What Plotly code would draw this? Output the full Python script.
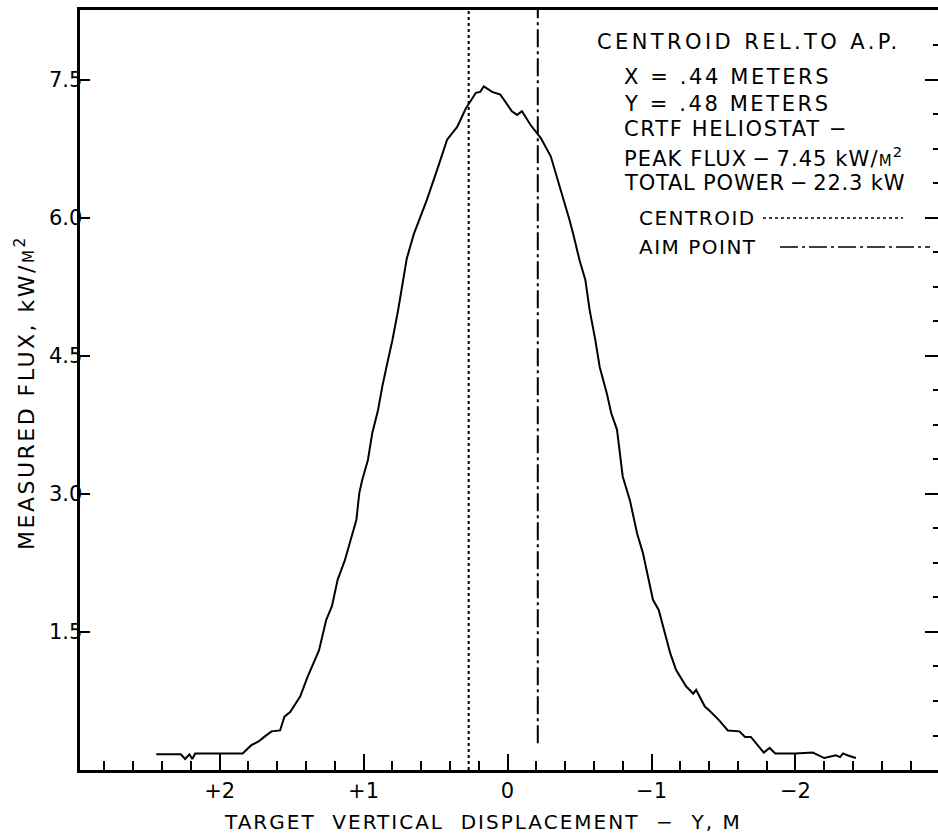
import plotly.graph_objects as go

# ---- data ----
disp_y = [2.44, 2.30, 2.27, 2.24, 2.21, 2.19, 2.17, 2.00, 1.84, 1.78, 1.73, 1.69, 1.64, 1.58,
          1.55, 1.51, 1.44, 1.39, 1.34, 1.31, 1.26, 1.22, 1.18, 1.13, 1.09, 1.05, 1.03,
          1.01, 0.97, 0.94, 0.90, 0.87, 0.83, 0.80, 0.76, 0.73, 0.70, 0.65, 0.56, 0.49,
          0.42, 0.35, 0.29, 0.22, 0.19, 0.165, 0.107, 0.05, -0.03, -0.066, -0.10, -0.16,
          -0.23, -0.30, -0.35, -0.39, -0.43, -0.46, -0.50, -0.54, -0.57, -0.61, -0.64,
          -0.69, -0.72, -0.76, -0.78, -0.80, -0.85, -0.90, -0.94, -0.98, -1.01, -1.05,
          -1.09, -1.13, -1.17, -1.24, -1.29, -1.31, -1.37, -1.40, -1.47, -1.53, -1.61,
          -1.65, -1.69, -1.78, -1.82, -1.86, -2.00, -2.12, -2.20, -2.28, -2.31, -2.33,
          -2.36, -2.42]
flux = [0.17, 0.17, 0.17, 0.12, 0.17, 0.12, 0.18, 0.18, 0.18, 0.27, 0.31, 0.36, 0.42, 0.43,
        0.58, 0.63, 0.80, 1.01, 1.20, 1.30, 1.63, 1.78, 2.07, 2.28, 2.50, 2.72, 3.01,
        3.15, 3.37, 3.66, 3.91, 4.17, 4.46, 4.67, 5.00, 5.29, 5.56, 5.83, 6.20, 6.52,
        6.85, 6.99, 7.19, 7.36, 7.37, 7.43, 7.37, 7.34, 7.16, 7.12, 7.16, 7.01,
        6.87, 6.67, 6.41, 6.20, 5.98, 5.80, 5.54, 5.33, 5.00, 4.67, 4.38,
        4.09, 3.88, 3.70, 3.44, 3.19, 2.93, 2.57, 2.36, 2.05, 1.85, 1.74,
        1.49, 1.27, 1.09, 0.91, 0.83, 0.87, 0.69, 0.65, 0.54, 0.43, 0.42,
        0.36, 0.36, 0.19, 0.24, 0.18, 0.18, 0.19, 0.13, 0.16, 0.14, 0.18,
        0.16, 0.13]

centroid_y = 0.27
aim_point_y = -0.21

x_tick_vals = [2, 1, 0, -1, -2]
x_tick_text = ["+2", "+1", "0", "\u22121", "\u22122"]
y_tick_vals = [1.5, 3.0, 4.5, 6.0, 7.5]
y_tick_text = ["1.5", "3.0", "4.5", "6.0", "7.5"]

SMALL_M = "<span style='font-size:15px'>M</span><sup>2</sup>"
info_lines = ["CENTROID REL.TO A.P.", "X = .44 METERS", "Y = .48 METERS",
              "CRTF HELIOSTAT \u2212",
              "PEAK FLUX\u2009\u2212\u20097.45 kW/" + SMALL_M,
              "TOTAL POWER\u2009\u2212\u200922.3 kW"]
legend_labels = ["CENTROID", "AIM POINT"]

X_RANGE = [2.97, -2.99]
Y_RANGE = [0, 8.26]

FONT = "DejaVu Sans"


def spaced(txt, ls):
    return f"<span style='letter-spacing:{ls}px'>{txt}</span>"


fig = go.Figure()
fig.add_trace(go.Scatter(x=disp_y, y=flux, mode="lines",
                         line=dict(color="black", width=2), showlegend=False))
fig.add_trace(go.Scatter(x=[centroid_y, centroid_y], y=[0, Y_RANGE[1]], mode="lines",
                         line=dict(color="black", width=2, dash="dot"), showlegend=False))
fig.add_trace(go.Scatter(x=[aim_point_y, aim_point_y], y=[0.29, Y_RANGE[1]], mode="lines",
                         line=dict(color="black", width=2, dash="18px,4px,3px,4px"), showlegend=False))
# invisible trace for right-hand tick axis
fig.add_trace(go.Scatter(x=[0], y=[0], yaxis="y2", mode="markers",
                         marker=dict(opacity=0), showlegend=False, hoverinfo="skip"))

tfont = dict(family=FONT, size=21, color="black")

fig.update_layout(
    width=938, height=838,
    margin=dict(l=80, r=0, t=10, b=68),
    paper_bgcolor="white", plot_bgcolor="white",
    font=dict(family=FONT, color="black"),
    xaxis=dict(range=X_RANGE, showgrid=False, zeroline=False,
               showline=True, linecolor="black", linewidth=3, mirror=True,
               tickmode="array", tickvals=x_tick_vals, ticktext=x_tick_text,
               ticks="inside", ticklen=16, tickwidth=2, tickcolor="black",
               tickfont=tfont,
               minor=dict(dtick=0.2, tick0=0, ticks="inside", ticklen=9,
                          tickwidth=2, tickcolor="black")),
    yaxis=dict(range=Y_RANGE, showgrid=False, zeroline=False,
               showline=True, linecolor="black", linewidth=3,
               tickmode="array", tickvals=y_tick_vals, showticklabels=False,
               ticks="inside", ticklen=10, tickwidth=2, tickcolor="black"),
    yaxis2=dict(range=Y_RANGE, overlaying="y", side="right", showgrid=False,
                zeroline=False, showline=False, showticklabels=False,
                tickmode="array", tickvals=y_tick_vals,
                ticks="inside", ticklen=13, tickwidth=2, tickcolor="black",
                minor=dict(dtick=0.375, tick0=0, ticks="inside", ticklen=5,
                           tickwidth=2, tickcolor="black")),
)


def px_x(px):
    return (px - 80) / 858


def px_y(py):
    return (770 - py) / 760


# y tick labels (placed close to the axis as in the reference)
for v, t in zip(y_tick_vals, y_tick_text):
    fig.add_annotation(text=t, xref="paper", yref="y", x=0, y=v, xanchor="right",
                       yanchor="middle", xshift=4, showarrow=False, font=tfont)

# y-axis title
fig.add_annotation(text=spaced("MEASURED FLUX, kW/" + SMALL_M, 2.5), textangle=-90,
                   xref="paper", yref="paper", x=px_x(25), y=px_y(393),
                   xanchor="center", yanchor="middle", showarrow=False,
                   font=dict(family=FONT, size=22, color="black"))

# x-axis title
fig.add_annotation(text=spaced("TARGET  VERTICAL  DISPLACEMENT  \u2212  Y, M", 2.0),
                   xref="paper", yref="paper",
                   x=px_x(483), y=px_y(822), xanchor="center", yanchor="middle",
                   showarrow=False, font=dict(family=FONT, size=20, color="black"))

# info block
info_pos = [(595, 42), (622, 77), (622, 104), (622, 129), (622, 157), (622, 183)]
info_spacing = [3.4, 2.6, 2.6, 1.7, 1.1, 0.8]
for txt, (px, py), ls in zip(info_lines, info_pos, info_spacing):
    fig.add_annotation(text=spaced(txt, ls), xref="paper", yref="paper", x=px_x(px), y=px_y(py),
                       xanchor="left", yanchor="middle", showarrow=False,
                       font=dict(family=FONT, size=21, color="black"))

leg_pos = [(637, 218), (637, 247)]
for txt, (px, py) in zip(legend_labels, leg_pos):
    fig.add_annotation(text=spaced(txt, 1.5), xref="paper", yref="paper", x=px_x(px), y=px_y(py),
                       xanchor="left", yanchor="middle", showarrow=False,
                       font=dict(family=FONT, size=20, color="black"))

fig.add_shape(type="line", xref="paper", yref="paper", x0=px_x(763), x1=px_x(903),
              y0=px_y(218), y1=px_y(218), line=dict(color="black", width=1.5, dash="dot"))
fig.add_shape(type="line", xref="paper", yref="paper", x0=px_x(780), x1=px_x(930),
              y0=px_y(247), y1=px_y(247), line=dict(color="black", width=1.5, dash="18px,4px,3px,4px"))

fig.write_html("out.html")
